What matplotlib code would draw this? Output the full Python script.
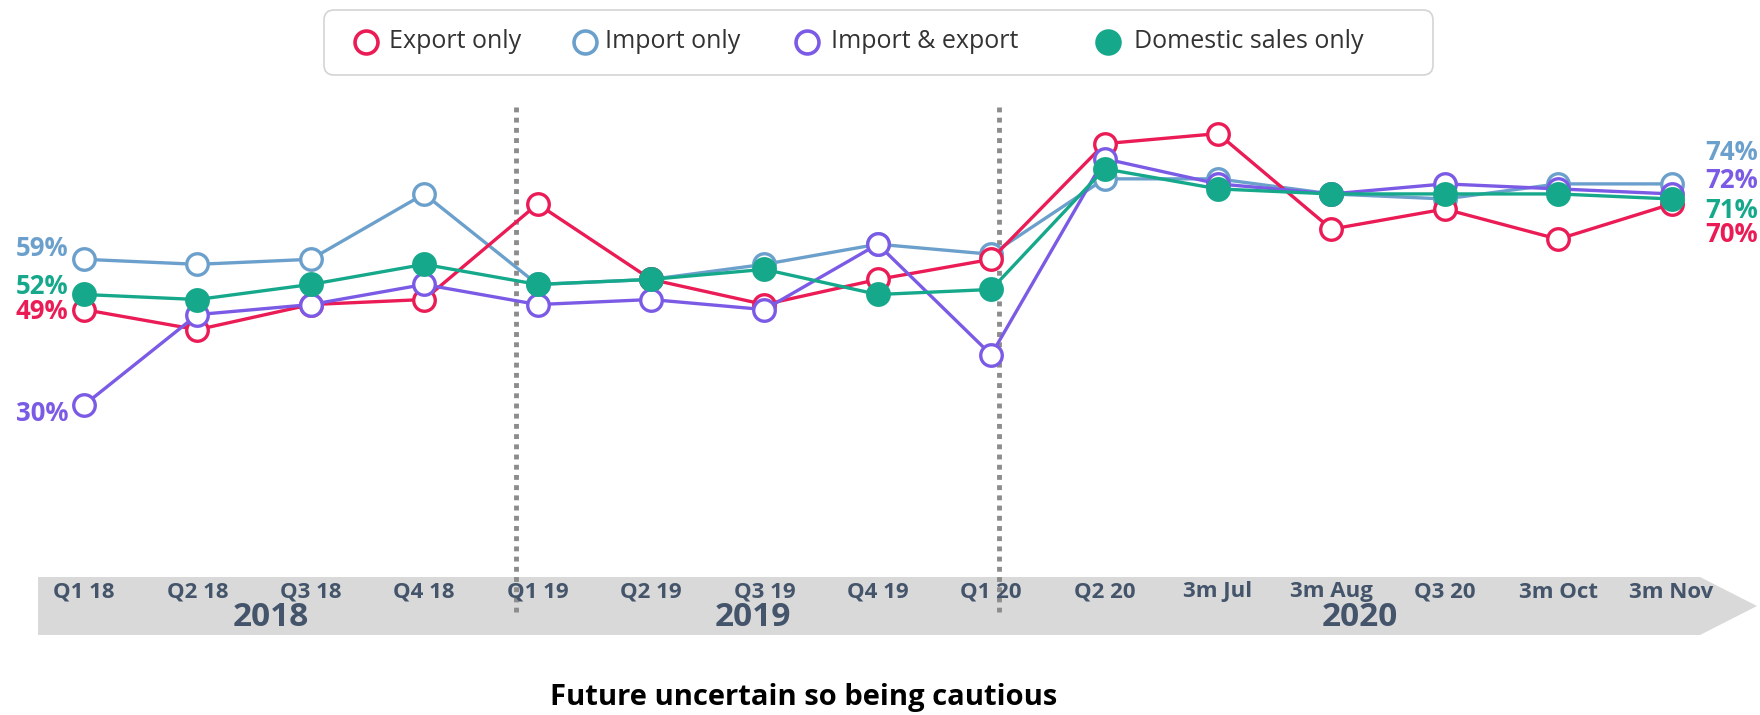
# -*- coding: utf-8 -*-
import numpy as np
import matplotlib
matplotlib.use('Agg')
from matplotlib import pyplot
from matplotlib.patches import Polygon, FancyBboxPatch
from matplotlib.transforms import blended_transform_factory

# - data
periods = ['Q1 18', 'Q2 18', 'Q3 18', 'Q4 18', 'Q1 19', 'Q2 19', 'Q3 19', 'Q4 19',
           'Q1 20', 'Q2 20', '3m Jul', '3m Aug', 'Q3 20', '3m Oct', '3m Nov']
years = ['2018', '2019', '2020']
year_pos = [1.65, 5.9, 11.25]

export_only = [49, 45, 50, 51, 70, 55, 50, 55, 59, 82, 84, 65, 69, 63, 70]
import_only = [59, 58, 59, 72, 54, 55, 58, 62, 60, 75, 75, 72, 71, 74, 74]
import_export = [30, 48, 50, 54, 50, 51, 49, 62, 40, 79, 74, 72, 74, 73, 72]
domestic = [52, 51, 54, 58, 54, 55, 57, 52, 53, 77, 73, 72, 72, 72, 71]

names = ['Export only', 'Import only', 'Import & export', 'Domestic sales only']
colors = ['#EA1B55', '#6CA0CC', '#7B5BE6', '#15A88B']

W, H = 1760, 715
fig = pyplot.figure(figsize=(W / 100, H / 100), dpi=100)

# pixel-space axes for decorations
pax = fig.add_axes([0, 0, 1, 1])
pax.set_xlim(0, W)
pax.set_ylim(H, 0)
pax.axis('off')

# data axes on top
ax = fig.add_axes([0, 0, 1, 1])
ax.patch.set_alpha(0)
ax.axis('off')
x0, dx = 84, 113.4          # pixel of first period, pixel per period
y59, dy = 259.3, 5.028      # pixel of 59 %, pixel per percentage point
ax.set_xlim(-x0 / dx, (W - x0) / dx)
ax.set_ylim(59 - (H - y59) / dy, 59 + y59 / dy)

x = np.arange(len(periods))
series = [export_only, import_only, import_export, domestic]
order = [1, 0, 2, 3]
for i in order:
    filled = (i == 3)
    ax.plot(x, series[i], color=colors[i], lw=2.4, marker='o', ms=15.5,
            mfc=colors[i] if filled else 'white', mec=colors[i], mew=2.4,
            zorder=3 + order.index(i))

# - end labels (offsets in pixels, down positive, series order)
font_b = 'Open Sans'
left_off = [2, -11, 8, -8]
right_off = [31, -31, -13, 12]
for i in range(4):
    ax.annotate('%d%%' % series[i][0], xy=(0, series[i][0]), xytext=(-16, -left_off[i]),
                textcoords='offset pixels', ha='right', va='center', color=colors[i],
                fontsize=18.5, fontweight='bold', family=font_b)
    ax.annotate('%d%%' % series[i][-1], xy=(x[-1], series[i][-1]), xytext=(34, -right_off[i]),
                textcoords='offset pixels', ha='left', va='center', color=colors[i],
                fontsize=18.5, fontweight='bold', family=font_b)

# - timeline band
band = Polygon([(38, 577), (1700, 577), (1757, 606), (1700, 635), (38, 635)],
               closed=True, fc='#D9D9D9', ec='none', zorder=1)
pax.add_patch(band)
tr = blended_transform_factory(ax.transData, pax.transData)
for i, p in enumerate(periods):
    ax.text(i, 592, p, transform=tr, ha='center', va='center', color='#44546A',
            fontsize=16, fontweight='bold', family=font_b, zorder=2)
for xp, yr in zip(year_pos, years):
    ax.text(xp, 617, yr, transform=tr, ha='center', va='center', color='#44546A',
            fontsize=24, fontweight='bold', family=font_b, zorder=2)

# - dotted separators
pax.vlines([516, 999], 107, 612, colors='#8C8C8C', lw=3.5, linestyles=(0, (1, 1.1)), zorder=5)

# - legend
box = FancyBboxPatch((324, 10), 1109, 65, boxstyle='round,pad=0,rounding_size=10',
                     fc='white', ec='#D4D4D4', lw=1.2, zorder=2)
pax.add_patch(box)
leg_mx = [366, 585, 807, 1108]
leg_tx = [389, 605, 831, 1134]
for i in range(4):
    filled = (i == 3)
    pax.plot([leg_mx[i]], [42], marker='o', ms=16.5, mec=colors[i], mew=2.6,
             mfc=colors[i] if filled else 'white', zorder=3)
    pax.text(leg_tx[i], 42, names[i], ha='left', va='center', color='#333333',
             fontsize=18, family=font_b, zorder=3)

# - title
pax.text(804, 698, 'Future uncertain so being cautious', ha='center', va='center',
         color='black', fontsize=21, fontweight='bold', family=font_b)

pyplot.savefig('out.png', dpi=100)
